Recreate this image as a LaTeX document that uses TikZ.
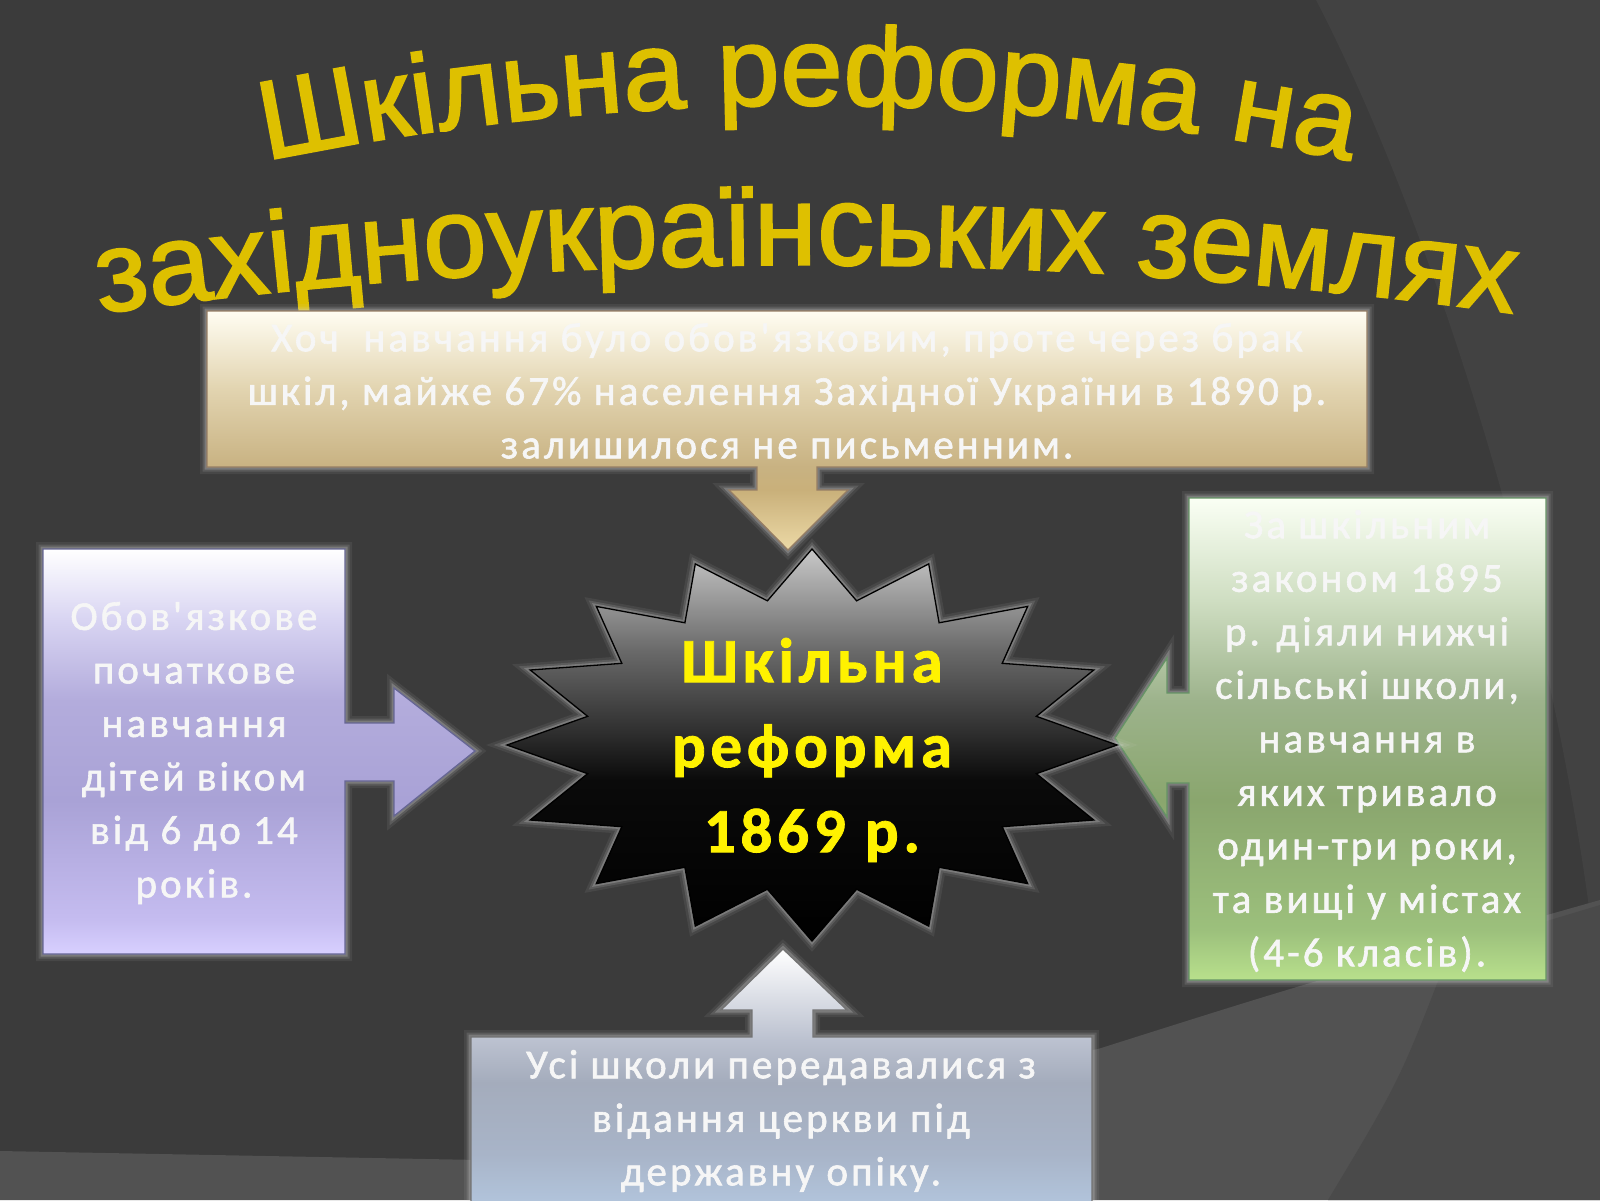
\documentclass[tikz,border=0pt]{standalone}
\usepackage{fontspec}
\newfontfamily\boxfont[LetterSpace=7.5]{Carlito}
\newfontfamily\titlefont{Liberation Sans}
\usetikzlibrary{positioning}
\usetikzlibrary{decorations.text}

\definecolor{bgbase}{HTML}{3B3B3B}
\definecolor{bglens}{HTML}{424242}
\definecolor{bgband}{HTML}{525252}
\definecolor{bgbanddark}{HTML}{4A4A4A}
\definecolor{titlegold}{HTML}{DEC000}
\definecolor{reformyellow}{HTML}{FFF200}
\definecolor{boxwhite}{HTML}{F6F6F6}
\definecolor{glowgrey}{HTML}{D8D8D8}
% shading stops
\definecolor{lackA}{HTML}{ECD9A6}\definecolor{lackB}{HTML}{C9B07A}
\definecolor{lackC}{HTML}{C8B282}\definecolor{lackD}{HTML}{E2D4B0}
\definecolor{lackE}{HTML}{FFFDF2}
\definecolor{dutyA}{HTML}{D8D0FF}\definecolor{dutyB}{HTML}{C5BCF0}
\definecolor{dutyC}{HTML}{A9A2D6}\definecolor{dutyD}{HTML}{B3ACDC}
\definecolor{dutyE}{HTML}{D8D4F2}\definecolor{dutyF}{HTML}{FFFFFF}
\definecolor{lawA}{HTML}{B8E08C}\definecolor{lawB}{HTML}{9CC07C}
\definecolor{lawC}{HTML}{8AA66E}\definecolor{lawD}{HTML}{9DB38C}
\definecolor{lawE}{HTML}{CFDEC2}\definecolor{lawF}{HTML}{FAFFF4}
\definecolor{churchA}{HTML}{B4C8E0}\definecolor{churchB}{HTML}{A8B4C8}
\definecolor{churchC}{HTML}{A4ACBC}\definecolor{churchD}{HTML}{BCC2D0}
\definecolor{churchE}{HTML}{FFFFFF}
\definecolor{reformA}{HTML}{000000}\definecolor{reformB}{HTML}{0A0A0A}
\definecolor{reformC}{HTML}{303030}\definecolor{reformD}{HTML}{6A6A6A}
\definecolor{reformE}{HTML}{C8C8C8}

\pgfdeclareverticalshading{lackshade}{100bp}{%
  color(0bp)=(lackA); color(25bp)=(lackA); color(37.6bp)=(lackB);
  color(42.4bp)=(lackC); color(58.7bp)=(lackD); color(75bp)=(lackE);
  color(100bp)=(lackE)}
\pgfdeclareverticalshading{dutyshade}{100bp}{%
  color(0bp)=(dutyA); color(25bp)=(dutyA); color(29.2bp)=(dutyB);
  color(44bp)=(dutyC); color(56.3bp)=(dutyD); color(66.2bp)=(dutyE);
  color(75bp)=(dutyF); color(100bp)=(dutyF)}
\pgfdeclareverticalshading{lawshade}{100bp}{%
  color(0bp)=(lawA); color(25bp)=(lawA); color(30.2bp)=(lawB);
  color(43.7bp)=(lawC); color(54bp)=(lawD); color(64.4bp)=(lawE);
  color(75bp)=(lawF); color(100bp)=(lawF)}
\pgfdeclareverticalshading{churchshade}{100bp}{%
  color(0bp)=(churchA); color(25bp)=(churchA); color(36.5bp)=(churchB);
  color(49.9bp)=(churchC); color(58.1bp)=(churchD); color(75bp)=(churchE);
  color(100bp)=(churchE)}
\pgfdeclareverticalshading{reformshade}{100bp}{%
  color(0bp)=(reformA); color(25bp)=(reformA); color(45.5bp)=(reformB);
  color(51.9bp)=(reformC); color(62.1bp)=(reformD); color(75bp)=(reformE);
  color(100bp)=(reformE)}

% thickened glyphs: #1 stroke width
\newcommand{\thicktext}[1]{\special{pdf:literal direct 2 Tr #1 w}}
\newcommand{\thinend}{\special{pdf:literal direct 0 Tr}}
\newcommand{\titlestyle}[1]{\titlefont\fontsize{#1}{#1}\selectfont
  \color{titlegold}\thicktext{2}}

\tikzset{
  glow/.style={preaction={draw=glowgrey,line width=14,opacity=0.08},
               preaction={draw=glowgrey,line width=9,opacity=0.14},
               preaction={draw=glowgrey,line width=5,opacity=0.25}},
  callout/.style={glow,shading=#1,line width=1.3,line join=miter},
  boxtext/.style={font=\boxfont\fontsize{41}{53.5}\selectfont,
                  text=boxwhite,align=center,inner sep=0,
                  execute at begin node={\thicktext{0.6}},
                  execute at end node={\thinend}},
  reformtext/.style={font=\boxfont\bfseries\fontsize{63}{85}\selectfont,
                     text=reformyellow,align=center,inner sep=0,
                     execute at begin node={\thicktext{0.8}},
                     execute at end node={\thinend}},
  titleline/.style 2 args={decorate,decoration={text along path,
                    text align=center,text={|\titlestyle{#1}|#2}}},
}

\begin{document}
\begin{tikzpicture}[x=1pt,y=-1pt]
    % Background
    \useasboundingbox (0,0) rectangle (1600,1200);
    \fill[bgbase] (0,0) rectangle (1600,1200);
    \fill[bglens] (1316,0) .. controls (1420,200) and (1560,600) .. (1600,1000)
        -- (1600,0) -- cycle;
    \fill[bgband] (0,1151) -- (480,1160) -- (1098,1049)
        .. controls (1300,985) .. (1600,900) -- (1600,1200) -- (0,1200) -- cycle;
    \fill[bgbanddark] (1450,950) .. controls (1400,1080) .. (1328,1200)
        -- (1600,1200) -- (1600,905) -- cycle;

    % Title
    \path[titleline={112}{Шкільна реформа на}]
        (108,198) .. controls (575,74) and (1041,74) .. (1508,198);
    \path[titleline={114}{західноукраїнських землях}]
        (26,324) .. controls (546,245) and (1066,245) .. (1586,324);

    % Callouts
    \draw[callout=lackshade,draw=black!45!brown!70!white]
        (207,311) -- (1367,311) -- (1367,467) -- (817,467) -- (817,490)
        -- (848,490) -- (788,550) -- (729,490) -- (757,490) -- (757,467)
        -- (207,467) -- cycle;
    \draw[callout=dutyshade,draw=blue!30!black!60!white]
        (43,549) -- (345,549) -- (345,723) -- (394,723) -- (394,688)
        -- (475,751) -- (394,816) -- (394,781) -- (345,781) -- (345,954)
        -- (43,954) -- cycle;
    \draw[callout=lawshade,draw=green!30!black!60!white]
        (1189,498) -- (1546,498) -- (1546,980) -- (1189,980) -- (1189,783)
        -- (1167,783) -- (1167,817) -- (1115,738) -- (1167,658) -- (1167,693)
        -- (1189,693) -- cycle;
    \draw[callout=churchshade,draw=black!55]
        (471,1037) -- (752,1037) -- (752,1010) -- (721,1010) -- (783,949)
        -- (847,1010) -- (813,1010) -- (813,1037) -- (1092,1037) -- (1092,1215)
        -- (471,1215) -- cycle;

    % Reform star
    \draw[callout=reformshade,draw=black]
        plot[samples at={0,...,31},variable=\i]
        ({812+305*(1-0.25*mod(\i,2))*cos(\i*11.25)},
         {745+196*(1-0.25*mod(\i,2))*sin(\i*11.25)}) -- cycle;

    % Texts
    \node[boxtext] (lack) at (787,391)
        {Хоч~ навчання було обов'язковим, проте через брак\\
         шкіл, майже 67\% населення Західної України в 1890 р.\\
         залишилося не письменним.};
    \node[boxtext] (duty) at (194,753)
        {Обов'язкове\\ початкове\\ навчання\\ дітей віком\\ від 6 до 14\\ років.};
    \node[boxtext] (law) at (1367,741)
        {За шкільним\\ законом 1895\\ р. діяли нижчі\\ сільські школи,\\
         навчання в\\ яких тривало\\ один-три роки,\\ та вищі у містах\\
         (4-6 класів).};
    \node[boxtext] (church) at (781,1121)
        {Усі школи передавалися з\\ відання церкви під\\ державну опіку.};
    \node[reformtext] (reform) at (812,750) {Шкільна\\ реформа\\ 1869 р.};
\end{tikzpicture}
\end{document}
